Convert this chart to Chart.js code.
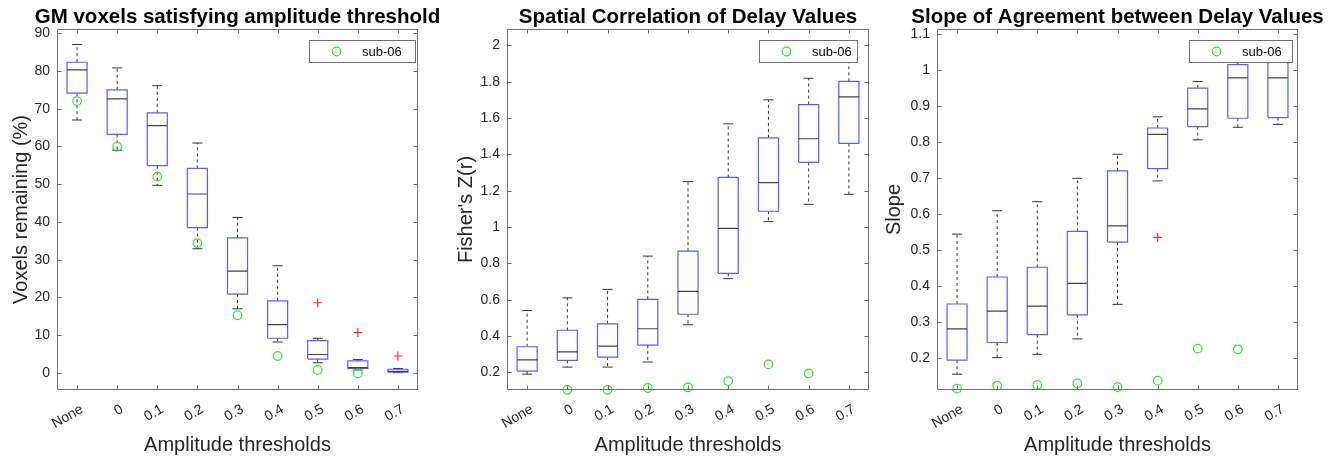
<!DOCTYPE html>
<html>
<head>
<meta charset="utf-8">
<script src="https://cdn.jsdelivr.net/npm/chart.js@4.4.0/dist/chart.umd.min.js"></script>
<style>
    html, body { margin: 0; padding: 0; background: #ffffff; }
    #page { position: relative; width: 1337px; height: 459px; overflow: hidden; }
    .panel { position: absolute; top: 0; height: 459px; }
</style>
</head>
<body>
<div id="page">
    <div class="panel" style="left:0px;width:445px;"><canvas id="c1"></canvas></div>
    <div class="panel" style="left:445px;width:470px;"><canvas id="c2"></canvas></div>
    <div class="panel" style="left:875px;width:462px;"><canvas id="c3"></canvas></div>
</div>
<script>
// Categories shared by every panel.
const categories = ["None", "0", "0.1", "0.2", "0.3", "0.4", "0.5", "0.6", "0.7"];

// Panel 1 - GM voxels satisfying amplitude threshold (%).
const vox_hi  = [87.0, 80.8, 76.1, 60.9, 41.2, 28.4, 9.2, 3.6, 1.2];
const vox_q3  = [82.3, 75.0, 68.9, 54.2, 35.8, 19.1, 8.6, 3.2, 1.0];
const vox_med = [80.3, 72.6, 65.5, 47.4, 27.0, 12.8, 4.9, 1.4, 0.45];
const vox_q1  = [74.1, 63.2, 54.9, 38.5, 20.9, 9.2, 3.7, 1.2, 0.2];
const vox_lo  = [67.0, 59.0, 49.7, 32.9, 17.0, 8.2, 2.7, 0.8, 0.1];
const vox_out = [null, null, null, null, null, null, 18.6, 10.7, 4.5];
const vox_sub = [72.0, 59.9, 52.0, 34.4, 15.3, 4.5, 0.8, -0.1, null];
const vox_ticks = [0, 10, 20, 30, 40, 50, 60, 70, 80, 90];

// Panel 2 - Spatial correlation of delay values (Fisher's Z).
const cor_hi  = [0.54, 0.61, 0.657, 0.84, 1.25, 1.568, 1.70, 1.819, 1.95];
const cor_q3  = [0.341, 0.432, 0.467, 0.602, 0.867, 1.273, 1.491, 1.674, 1.802];
const cor_med = [0.269, 0.313, 0.345, 0.44, 0.646, 0.993, 1.244, 1.486, 1.716];
const cor_q1  = [0.207, 0.266, 0.284, 0.35, 0.52, 0.745, 1.087, 1.356, 1.46];
const cor_lo  = [0.19, 0.229, 0.229, 0.257, 0.462, 0.716, 1.03, 1.125, 1.18];
const cor_out = [null, null, null, null, null, null, null, null, null];
const cor_sub = [null, 0.104, 0.104, 0.114, 0.117, 0.152, 0.244, 0.194, null];
const cor_ticks = [0.2, 0.4, 0.6, 0.8, 1.0, 1.2, 1.4, 1.6, 1.8, 2.0];

// Panel 3 - Slope of agreement between delay values.
const slp_hi  = [0.545, 0.61, 0.635, 0.70, 0.767, 0.871, 0.969, 1.04, 1.07];
const slp_q3  = [0.351, 0.426, 0.453, 0.553, 0.721, 0.84, 0.951, 1.016, 1.035];
const slp_med = [0.282, 0.331, 0.345, 0.408, 0.568, 0.822, 0.893, 0.979, 0.979];
const slp_q1  = [0.195, 0.244, 0.266, 0.321, 0.523, 0.727, 0.844, 0.867, 0.869];
const slp_lo  = [0.156, 0.202, 0.211, 0.254, 0.35, 0.693, 0.807, 0.842, 0.85];
const slp_out = [null, null, null, null, null, 0.536, null, null, null];
const slp_sub = [0.116, 0.124, 0.126, 0.13, 0.12, 0.138, 0.227, 0.225, null];
const slp_ticks = [0.2, 0.3, 0.4, 0.5, 0.6, 0.7, 0.8, 0.9, 1.0, 1.1];

const FONT = "'Liberation Sans', Arial, Helvetica, sans-serif";
const AXIS_COLOR = "#262626";
const FRAME_COLOR = "#6f6f6f";

// Half widths of the box and the whisker caps, in category units.
const BOX_HALF = 0.25;
const CAP_HALF = 0.125;

function gap(x) {
    return {x: x, y: null};
}

function box_points(q1, q3) {
    /*
    Closed rectangle for every category, separated by gaps.
    */
    const pts = [];
    q1.forEach((lo, i) => {
        const x = i + 1;
        pts.push({x: x - BOX_HALF, y: lo}, {x: x + BOX_HALF, y: lo},
                 {x: x + BOX_HALF, y: q3[i]}, {x: x - BOX_HALF, y: q3[i]},
                 {x: x - BOX_HALF, y: lo}, gap(x));
    });
    return pts;
}

function whisker_points(lo, q1, q3, hi) {
    const pts = [];
    lo.forEach((v, i) => {
        const x = i + 1;
        pts.push({x: x, y: q3[i]}, {x: x, y: hi[i]}, gap(x));
        pts.push({x: x, y: q1[i]}, {x: x, y: v}, gap(x));
    });
    return pts;
}

function hline_points(values, half) {
    const pts = [];
    values.forEach((v, i) => {
        const x = i + 1;
        pts.push({x: x - half, y: v}, {x: x + half, y: v}, gap(x));
    });
    return pts;
}

function marker_points(values) {
    return values
        .map((v, i) => ({x: i + 1, y: v}))
        .filter(p => p.y !== null);
}

// Draws the title, the axes frame with inward ticks and the boxed legend.
const matlabAxes = {
    id: "matlabAxes",
    afterDraw(chart, args, opts) {
        const {ctx, chartArea: a, scales} = chart;
        ctx.save();

        // Title centred on the plot area.
        ctx.fillStyle = "#000000";
        ctx.font = "bold 20.5px " + FONT;
        ctx.textAlign = "center";
        ctx.textBaseline = "alphabetic";
        ctx.fillText(opts.title, (a.left + a.right) / 2, 23);

        // Frame.
        ctx.strokeStyle = FRAME_COLOR;
        ctx.lineWidth = 1;
        const L = Math.round(a.left) + 0.5, R = Math.round(a.right) - 0.5;
        const T = Math.round(a.top) + 0.5, B = Math.round(a.bottom) - 0.5;
        ctx.strokeRect(L, T, R - L, B - T);

        // Inward ticks on all four sides.
        const len = 4;
        ctx.beginPath();
        scales.x.ticks.forEach(t => {
            const px = Math.round(scales.x.getPixelForValue(t.value)) + 0.5;
            ctx.moveTo(px, B); ctx.lineTo(px, B - len);
            ctx.moveTo(px, T); ctx.lineTo(px, T + len);
        });
        scales.y.ticks.forEach(t => {
            const py = Math.round(scales.y.getPixelForValue(t.value)) + 0.5;
            ctx.moveTo(L, py); ctx.lineTo(L + len, py);
            ctx.moveTo(R, py); ctx.lineTo(R - len, py);
        });
        ctx.stroke();

        // Legend box in the upper right corner.
        const lx = Math.round(a.right - opts.legendRight - opts.legendWidth) + 0.5;
        const ly = 40.5;
        const lh = 22;
        ctx.fillStyle = "#ffffff";
        ctx.fillRect(lx, ly, opts.legendWidth, lh);
        ctx.strokeStyle = FRAME_COLOR;
        ctx.strokeRect(lx, ly, opts.legendWidth, lh);

        const sub = chart.data.datasets[0];
        ctx.strokeStyle = sub.borderColor;
        ctx.lineWidth = sub.borderWidth;
        ctx.beginPath();
        ctx.arc(lx + 27, ly + lh / 2, sub.pointRadius, 0, Math.PI * 2);
        ctx.stroke();

        ctx.fillStyle = "#000000";
        ctx.font = "13px " + FONT;
        ctx.textAlign = "left";
        ctx.textBaseline = "middle";
        ctx.fillText(sub.label, lx + 52.5, ly + lh / 2 + 0.5);

        ctx.restore();
    }
};

function make_panel(canvas_id, cfg) {
    const datasets = [
        {
            label: "sub-06",
            data: marker_points(cfg.sub),
            showLine: false,
            pointStyle: "circle",
            pointRadius: 4.3,
            borderWidth: 1.2,
            borderColor: "#2ee82e",
            backgroundColor: "rgba(0,0,0,0)",
            clip: false
        },
        {
            label: "outliers",
            data: marker_points(cfg.out),
            showLine: false,
            pointStyle: "cross",
            pointRadius: 4.5,
            borderWidth: 1.2,
            borderColor: "#ff3030"
        },
        {
            label: "median",
            data: hline_points(cfg.med, BOX_HALF),
            showLine: true,
            pointRadius: 0,
            borderWidth: 1.2,
            borderColor: "#444444"
        },
        {
            label: "box",
            data: box_points(cfg.q1, cfg.q3),
            showLine: true,
            pointRadius: 0,
            borderWidth: 1.2,
            borderColor: "#5b5bff"
        },
        {
            label: "caps",
            data: hline_points(cfg.lo, CAP_HALF).concat(hline_points(cfg.hi, CAP_HALF)),
            showLine: true,
            pointRadius: 0,
            borderWidth: 1,
            borderColor: "#333333"
        },
        {
            label: "whiskers",
            data: whisker_points(cfg.lo, cfg.q1, cfg.q3, cfg.hi),
            showLine: true,
            pointRadius: 0,
            borderWidth: 1,
            borderDash: [3, 3],
            borderColor: "#333333"
        }
    ];

    return new Chart(document.getElementById(canvas_id), {
        type: "scatter",
        data: {datasets: datasets},
        options: {
            responsive: true,
            maintainAspectRatio: false,
            animation: false,
            events: [],
            layout: {padding: {top: 29, right: cfg.padRight, left: 0, bottom: 0}},
            plugins: {
                legend: {display: false},
                tooltip: {enabled: false},
                title: {display: false},
                matlabAxes: {
                    title: cfg.title,
                    legendRight: cfg.legendRight,
                    legendWidth: cfg.legendWidth
                }
            },
            scales: {
                x: {
                    type: "linear",
                    min: 0.5,
                    max: 9.5,
                    grid: {display: false},
                    border: {display: false},
                    afterBuildTicks: (scale) => {
                        scale.ticks = categories.map((c, i) => ({value: i + 1}));
                    },
                    afterFit: (scale) => { scale.height = 69; },
                    ticks: {
                        autoSkip: false,
                        minRotation: 30,
                        maxRotation: 30,
                        padding: 3,
                        labelOffset: 5,
                        color: AXIS_COLOR,
                        font: {family: FONT, size: 14},
                        callback: (v) => categories[Math.round(v) - 1]
                    },
                    title: {
                        display: true,
                        text: "Amplitude thresholds",
                        color: AXIS_COLOR,
                        font: {family: FONT, size: 20, lineHeight: 1.2},
                        padding: {top: 0, bottom: 2}
                    }
                },
                y: {
                    type: "linear",
                    min: cfg.yMin,
                    max: cfg.yMax,
                    grid: {display: false},
                    border: {display: false},
                    afterBuildTicks: (scale) => {
                        scale.ticks = cfg.ticks.map(v => ({value: v}));
                    },
                    afterFit: (scale) => { scale.width = cfg.yWidth; },
                    ticks: {
                        padding: -1,
                        color: AXIS_COLOR,
                        font: {family: FONT, size: 14},
                        callback: (v) => String(Math.round(v * 10) / 10)
                    },
                    title: {
                        display: true,
                        text: cfg.yLabel,
                        color: AXIS_COLOR,
                        font: {family: FONT, size: 20, lineHeight: 1.2},
                        padding: {top: cfg.yTitlePad, bottom: 0}
                    }
                }
            }
        },
        plugins: [matlabAxes]
    });
}

make_panel("c1", {
    title: "GM voxels satisfying amplitude threshold",
    yLabel: "Voxels remaining (%)",
    hi: vox_hi, q3: vox_q3, med: vox_med, q1: vox_q1, lo: vox_lo,
    out: vox_out, sub: vox_sub, ticks: vox_ticks,
    yMin: -4.5, yMax: 91.1,
    yWidth: 57, padRight: 27, yTitlePad: 9,
    legendRight: 3, legendWidth: 106
});

make_panel("c2", {
    title: "Spatial Correlation of Delay Values",
    yLabel: "Fisher's Z(r)",
    hi: cor_hi, q3: cor_q3, med: cor_med, q1: cor_q1, lo: cor_lo,
    out: cor_out, sub: cor_sub, ticks: cor_ticks,
    yMin: 0.103, yMax: 2.09,
    yWidth: 62, padRight: 46, yTitlePad: 9.4,
    legendRight: 12, legendWidth: 98
});

make_panel("c3", {
    title: "Slope of Agreement between Delay Values",
    yLabel: "Slope",
    hi: slp_hi, q3: slp_q3, med: slp_med, q1: slp_q1, lo: slp_lo,
    out: slp_out, sub: slp_sub, ticks: slp_ticks,
    yMin: 0.112, yMax: 1.115,
    yWidth: 62, padRight: 39, yTitlePad: 7,
    legendRight: 6, legendWidth: 103
});
</script>
</body>
</html>
